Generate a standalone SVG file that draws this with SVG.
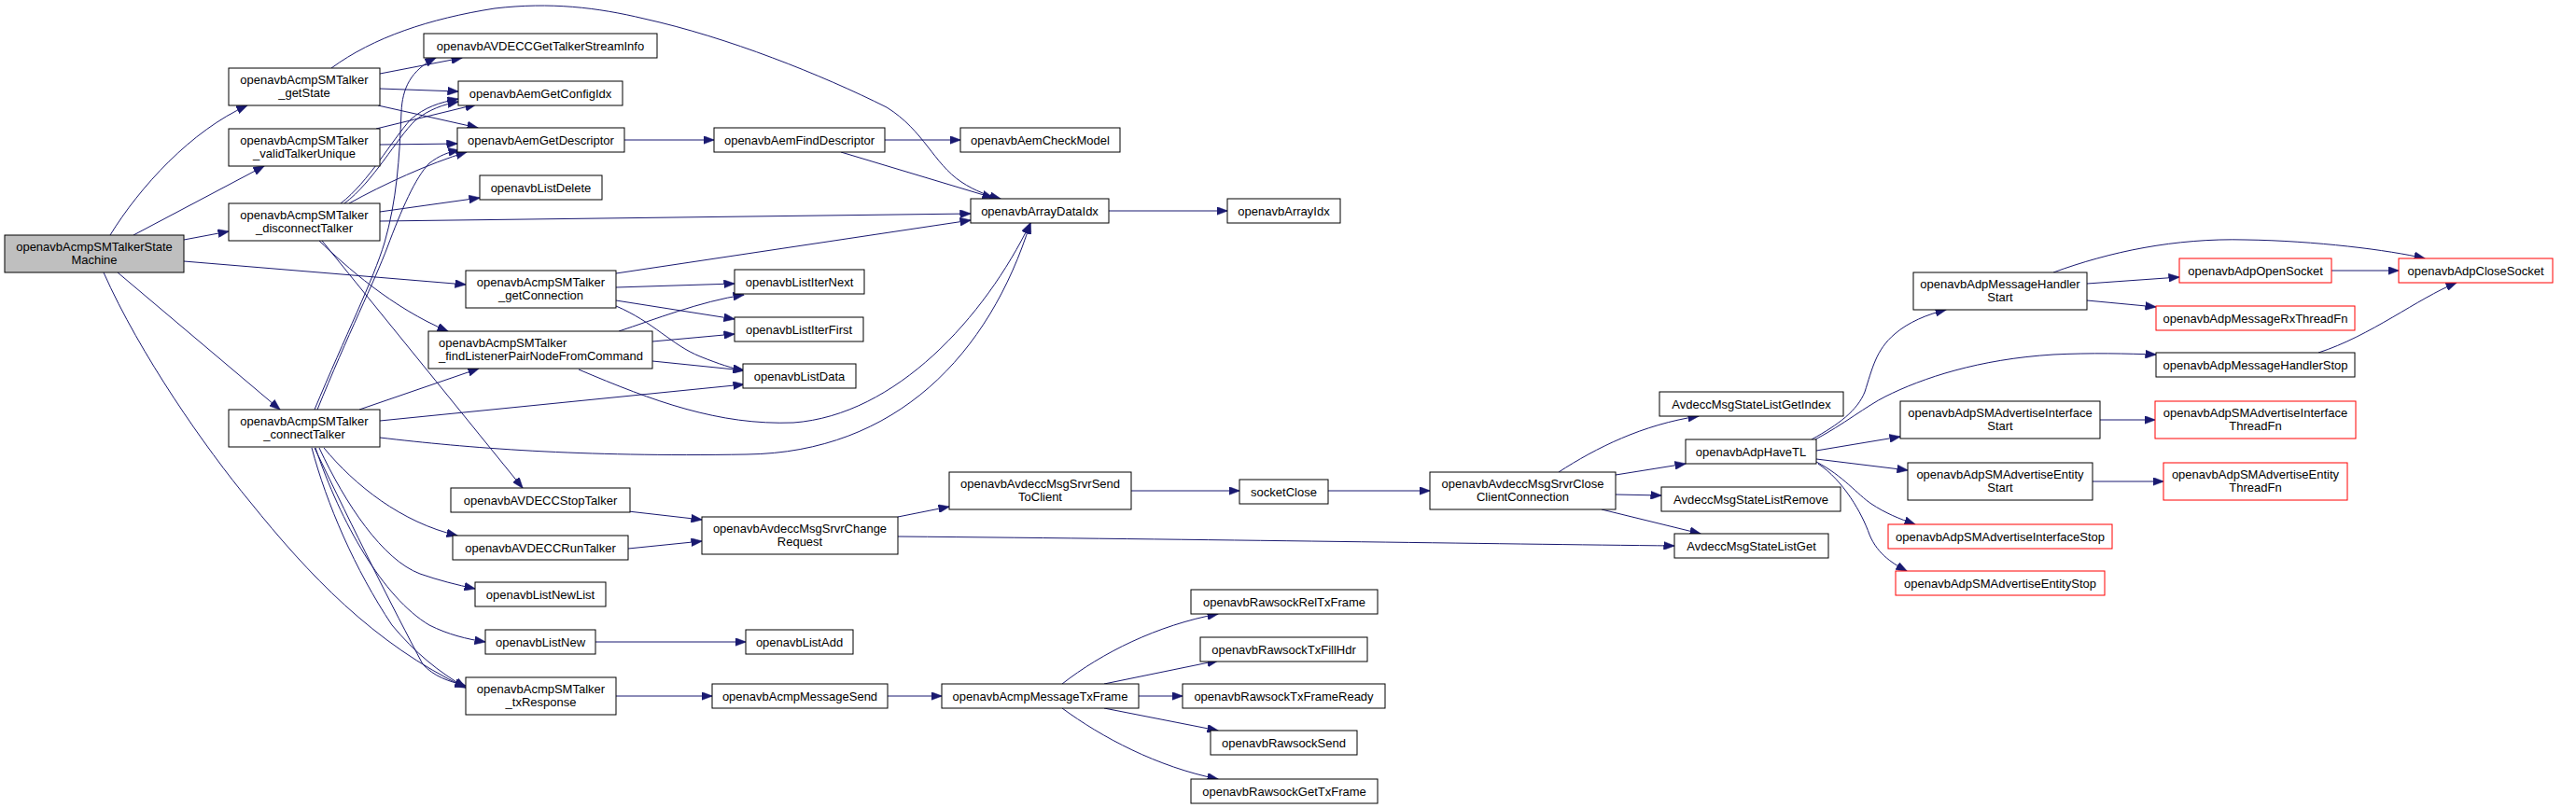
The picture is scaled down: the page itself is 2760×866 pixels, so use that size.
<svg xmlns="http://www.w3.org/2000/svg" width="2760" height="866" viewBox="0 0 2760 866">
<style>
.n rect{fill:#fff;stroke:#000;stroke-width:1}
.n.red rect{stroke:#ff0000}
.n.root rect{fill:#bfbfbf}
.n text{font-family:"Liberation Sans",Arial,sans-serif;font-size:13px;text-anchor:middle;fill:#000}
.n text.l{text-anchor:start}
#edges path{fill:none;stroke:#191970;stroke-width:1;marker-end:url(#ah)}
</style>
<defs>
<marker id="ah" markerUnits="userSpaceOnUse" markerWidth="12" markerHeight="9" viewBox="0 0 12 9" refX="11.5" refY="4.5" orient="auto">
<path d="M0,0 L12,4.5 L0,9 z" fill="#191970" stroke="#191970" stroke-width="0.5"/>
</marker>
</defs>
<rect width="2760" height="866" fill="#fff"/>
<g id="edges">
<path d="M118,252 C150,200 205,140 265,113"/>
<path d="M143,252 L283,178"/>
<path d="M197,257 L245,248"/>
<path d="M197,280 L499,305"/>
<path d="M126,292 L300,439"/>
<path d="M111,292 C150,380 220,480 268,538 C330,615 400,690 499,737"/>
<path d="M407,79 L495,62"/>
<path d="M407,95 L491,98"/>
<path d="M405,113 L512,137"/>
<path d="M355,73 C400,40 460,20 530,9 C590,2 640,8 690,20 C780,40 880,80 950,115 C990,140 1000,175 1030,195 C1045,205 1060,210 1072,213"/>
<path d="M403,138 L510,112"/>
<path d="M407,155 L490,154"/>
<path d="M365,218 C395,195 420,150 440,128 C455,115 470,110 491,106"/>
<path d="M369,218 C400,195 425,148 445,129 C460,117 475,112 491,109"/>
<path d="M374,218 C410,198 460,175 500,163"/>
<path d="M407,227 L514,212"/>
<path d="M407,237 L1040,229"/>
<path d="M342,258 C370,285 420,330 480,355"/>
<path d="M345,258 L560,523"/>
<path d="M337,439 C370,360 400,300 412,260 C425,215 428,170 430,120 C431,95 440,75 467,62"/>
<path d="M340,439 C372,360 402,300 415,265 C430,225 445,190 460,175 C470,167 480,163 492,161"/>
<path d="M385,439 L513,395"/>
<path d="M407,451 L797,412"/>
<path d="M407,469 C500,480 620,490 800,487 C960,485 1060,380 1104,239"/>
<path d="M347,480 C380,520 430,560 490,574"/>
<path d="M342,480 C370,540 410,600 450,615 C470,622 490,627 509,631"/>
<path d="M338,480 C365,560 410,640 460,670 C480,680 500,685 520,688"/>
<path d="M337,480 C380,570 420,650 453,712 C465,725 480,730 499,735"/>
<path d="M334,480 C350,540 380,610 420,670 C445,700 470,720 499,737"/>
<path d="M660,293 L1040,236"/>
<path d="M660,308 L787,304"/>
<path d="M660,322 L787,342"/>
<path d="M660,328 C700,345 720,370 750,382 C770,390 785,395 797,397"/>
<path d="M663,355 C700,343 750,323 797,316"/>
<path d="M699,366 L787,358"/>
<path d="M699,387 L797,397"/>
<path d="M620,396 C700,430 770,456 850,453 C960,445 1055,340 1104,239"/>
<path d="M669,150 L765,150"/>
<path d="M948,150 L1029,150"/>
<path d="M901,163 L1064,212"/>
<path d="M1188,226 L1315,226"/>
<path d="M673,548 L752,557"/>
<path d="M673,588 L752,580"/>
<path d="M962,554 L1017,543"/>
<path d="M962,575 C1300,578 1600,583 1794,585"/>
<path d="M1212,526 L1328,526"/>
<path d="M1423,526 L1532,526"/>
<path d="M1670,506 C1710,480 1760,455 1820,446"/>
<path d="M1731,509 L1806,497"/>
<path d="M1731,530 L1780,531"/>
<path d="M1716,546 L1822,572"/>
<path d="M1941,471 C1970,455 1990,440 1998,420 C2006,395 2010,375 2030,358 C2045,345 2065,337 2085,332"/>
<path d="M1945,471 C1975,455 2000,435 2020,425 C2060,405 2120,385 2200,380 C2240,378 2280,379 2310,380"/>
<path d="M1946,483 L2036,468"/>
<path d="M1946,492 L2044,504"/>
<path d="M1946,495 C1975,510 1990,530 2005,540 C2020,550 2035,556 2052,562"/>
<path d="M1948,497 C1975,515 1995,550 2003,573 C2012,595 2030,605 2043,612"/>
<path d="M2236,304 L2335,297"/>
<path d="M2236,322 L2310,329"/>
<path d="M2200,292 C2260,270 2330,255 2406,257 C2480,258 2560,268 2598,277"/>
<path d="M2498,290 L2570,290"/>
<path d="M2484,378 C2540,360 2590,320 2632,303"/>
<path d="M2250,450 L2309,450"/>
<path d="M2242,516 L2318,516"/>
<path d="M660,746 L763,746"/>
<path d="M951,746 L1009,746"/>
<path d="M1138,733 C1180,700 1240,670 1305,658"/>
<path d="M1183,733 L1305,708"/>
<path d="M1220,746 L1267,746"/>
<path d="M1183,759 L1305,783"/>
<path d="M1138,759 C1180,790 1240,822 1305,835"/>
<path d="M638,688 L799,688"/>
</g>
<g id="n_root" class="n root"><rect x="5" y="252" width="192" height="40"/><text x="101" y="268.5">openavbAcmpSMTalkerState</text><text x="101" y="283">Machine</text></g>
<g id="n_getState" class="n"><rect x="245" y="73" width="162" height="40"/><text x="326" y="89.5">openavbAcmpSMTalker</text><text x="326" y="104">_getState</text></g>
<g id="n_validTalkerUnique" class="n"><rect x="245" y="138" width="162" height="40"/><text x="326" y="154.5">openavbAcmpSMTalker</text><text x="326" y="169">_validTalkerUnique</text></g>
<g id="n_disconnectTalker" class="n"><rect x="245" y="218" width="162" height="40"/><text x="326" y="234.5">openavbAcmpSMTalker</text><text x="326" y="249">_disconnectTalker</text></g>
<g id="n_connectTalker" class="n"><rect x="245" y="439" width="162" height="40"/><text x="326" y="455.5">openavbAcmpSMTalker</text><text x="326" y="470">_connectTalker</text></g>
<g id="n_getTalkerStreamInfo" class="n"><rect x="454" y="36" width="250" height="26"/><text x="579" y="53.5">openavbAVDECCGetTalkerStreamInfo</text></g>
<g id="n_getConfigIdx" class="n"><rect x="491" y="87" width="176" height="26"/><text x="579" y="104.5">openavbAemGetConfigIdx</text></g>
<g id="n_getDescriptor" class="n"><rect x="490" y="137" width="179" height="26"/><text x="579.5" y="154.5">openavbAemGetDescriptor</text></g>
<g id="n_listDelete" class="n"><rect x="514" y="188" width="131" height="26"/><text x="579.5" y="205.5">openavbListDelete</text></g>
<g id="n_getConnection" class="n"><rect x="499" y="290" width="161" height="40"/><text x="579.5" y="306.5">openavbAcmpSMTalker</text><text x="579.5" y="321">_getConnection</text></g>
<g id="n_findListenerPair" class="n"><rect x="459" y="355" width="240" height="40"/><text class="l" x="470" y="371.5">openavbAcmpSMTalker</text><text class="l" x="470" y="386">_findListenerPairNodeFromCommand</text></g>
<g id="n_stopTalker" class="n"><rect x="483" y="523" width="192" height="26"/><text x="579" y="540.5">openavbAVDECCStopTalker</text></g>
<g id="n_runTalker" class="n"><rect x="485" y="574" width="188" height="26"/><text x="579" y="591.5">openavbAVDECCRunTalker</text></g>
<g id="n_listNewList" class="n"><rect x="509" y="624" width="140" height="26"/><text x="579" y="641.5">openavbListNewList</text></g>
<g id="n_listNew" class="n"><rect x="520" y="675" width="118" height="26"/><text x="579" y="692.5">openavbListNew</text></g>
<g id="n_txResponse" class="n"><rect x="499" y="726" width="161" height="40"/><text x="579.5" y="742.5">openavbAcmpSMTalker</text><text x="579.5" y="757">_txResponse</text></g>
<g id="n_findDescriptor" class="n"><rect x="765" y="137" width="183" height="26"/><text x="856.5" y="154.5">openavbAemFindDescriptor</text></g>
<g id="n_checkModel" class="n"><rect x="1029" y="137" width="171" height="26"/><text x="1114.5" y="154.5">openavbAemCheckModel</text></g>
<g id="n_arrayDataIdx" class="n"><rect x="1040" y="213" width="148" height="26"/><text x="1114" y="230.5">openavbArrayDataIdx</text></g>
<g id="n_arrayIdx" class="n"><rect x="1315" y="213" width="121" height="26"/><text x="1375.5" y="230.5">openavbArrayIdx</text></g>
<g id="n_listIterNext" class="n"><rect x="787" y="289" width="139" height="26"/><text x="856.5" y="306.5">openavbListIterNext</text></g>
<g id="n_listIterFirst" class="n"><rect x="787" y="340" width="138" height="26"/><text x="856" y="357.5">openavbListIterFirst</text></g>
<g id="n_listData" class="n"><rect x="796" y="390" width="121" height="26"/><text x="856.5" y="407.5">openavbListData</text></g>
<g id="n_changeRequest" class="n"><rect x="752" y="554" width="210" height="40"/><text x="857" y="570.5">openavbAvdeccMsgSrvrChange</text><text x="857" y="585">Request</text></g>
<g id="n_sendToClient" class="n"><rect x="1017" y="506" width="195" height="40"/><text x="1114.5" y="522.5">openavbAvdeccMsgSrvrSend</text><text x="1114.5" y="537">ToClient</text></g>
<g id="n_socketClose" class="n"><rect x="1328" y="514" width="95" height="26"/><text x="1375.5" y="531.5">socketClose</text></g>
<g id="n_listAdd" class="n"><rect x="799" y="675" width="115" height="26"/><text x="856.5" y="692.5">openavbListAdd</text></g>
<g id="n_acmpMessageSend" class="n"><rect x="763" y="733" width="188" height="26"/><text x="857" y="750.5">openavbAcmpMessageSend</text></g>
<g id="n_acmpMessageTxFrame" class="n"><rect x="1009" y="733" width="211" height="26"/><text x="1114.5" y="750.5">openavbAcmpMessageTxFrame</text></g>
<g id="n_rawsockRelTxFrame" class="n"><rect x="1276" y="632" width="200" height="26"/><text x="1376" y="649.5">openavbRawsockRelTxFrame</text></g>
<g id="n_rawsockTxFillHdr" class="n"><rect x="1286" y="683" width="179" height="26"/><text x="1375.5" y="700.5">openavbRawsockTxFillHdr</text></g>
<g id="n_rawsockTxFrameReady" class="n"><rect x="1267" y="733" width="217" height="26"/><text x="1375.5" y="750.5">openavbRawsockTxFrameReady</text></g>
<g id="n_rawsockSend" class="n"><rect x="1297" y="783" width="157" height="26"/><text x="1375.5" y="800.5">openavbRawsockSend</text></g>
<g id="n_rawsockGetTxFrame" class="n"><rect x="1276" y="835" width="200" height="26"/><text x="1376" y="852.5">openavbRawsockGetTxFrame</text></g>
<g id="n_closeClientConnection" class="n"><rect x="1532" y="506" width="199" height="40"/><text x="1631.5" y="522.5">openavbAvdeccMsgSrvrClose</text><text x="1631.5" y="537">ClientConnection</text></g>
<g id="n_stateListGetIndex" class="n"><rect x="1778" y="420" width="197" height="26"/><text x="1876.5" y="437.5">AvdeccMsgStateListGetIndex</text></g>
<g id="n_adpHaveTL" class="n"><rect x="1806" y="471" width="140" height="26"/><text x="1876" y="488.5">openavbAdpHaveTL</text></g>
<g id="n_stateListRemove" class="n"><rect x="1780" y="522" width="192" height="26"/><text x="1876" y="539.5">AvdeccMsgStateListRemove</text></g>
<g id="n_stateListGet" class="n"><rect x="1794" y="572" width="165" height="26"/><text x="1876.5" y="589.5">AvdeccMsgStateListGet</text></g>
<g id="n_msgHandlerStart" class="n"><rect x="2050" y="292" width="186" height="40"/><text x="2143" y="308.5">openavbAdpMessageHandler</text><text x="2143" y="323">Start</text></g>
<g id="n_adpOpenSocket" class="n red"><rect x="2335" y="277" width="163" height="26"/><text x="2416.5" y="294.5">openavbAdpOpenSocket</text></g>
<g id="n_adpCloseSocket" class="n red"><rect x="2570" y="277" width="165" height="26"/><text x="2652.5" y="294.5">openavbAdpCloseSocket</text></g>
<g id="n_rxThreadFn" class="n red"><rect x="2310" y="328" width="213" height="26"/><text x="2416.5" y="345.5">openavbAdpMessageRxThreadFn</text></g>
<g id="n_msgHandlerStop" class="n"><rect x="2310" y="378" width="213" height="26"/><text x="2416.5" y="395.5">openavbAdpMessageHandlerStop</text></g>
<g id="n_smIfStart" class="n"><rect x="2036" y="430" width="214" height="40"/><text x="2143" y="446.5">openavbAdpSMAdvertiseInterface</text><text x="2143" y="461">Start</text></g>
<g id="n_smIfThreadFn" class="n red"><rect x="2309" y="430" width="215" height="40"/><text x="2416.5" y="446.5">openavbAdpSMAdvertiseInterface</text><text x="2416.5" y="461">ThreadFn</text></g>
<g id="n_smEntStart" class="n"><rect x="2044" y="496" width="198" height="40"/><text x="2143" y="512.5">openavbAdpSMAdvertiseEntity</text><text x="2143" y="527">Start</text></g>
<g id="n_smEntThreadFn" class="n red"><rect x="2318" y="496" width="197" height="40"/><text x="2416.5" y="512.5">openavbAdpSMAdvertiseEntity</text><text x="2416.5" y="527">ThreadFn</text></g>
<g id="n_smIfStop" class="n red"><rect x="2023" y="562" width="240" height="26"/><text x="2143" y="579.5">openavbAdpSMAdvertiseInterfaceStop</text></g>
<g id="n_smEntStop" class="n red"><rect x="2031" y="612" width="224" height="26"/><text x="2143" y="629.5">openavbAdpSMAdvertiseEntityStop</text></g>
</svg>
